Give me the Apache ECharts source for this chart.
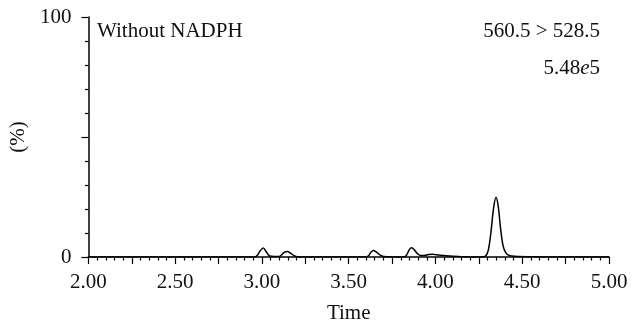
<!DOCTYPE html>
<html><head><meta charset="utf-8">
<script src="https://cdn.jsdelivr.net/npm/echarts@6/dist/echarts.min.js"></script>
<style>html,body{margin:0;padding:0;background:#fff}#c{width:639px;height:329px}</style>
</head><body><div id="c"></div>
<script>
const times = [2.00, 2.96, 2.975, 2.99, 3.008, 3.025, 3.044, 3.07, 3.10, 3.115, 3.13, 3.147, 3.165, 3.185, 3.205, 3.25,
  3.60, 3.615, 3.628, 3.642, 3.66, 3.68, 3.70, 3.75, 3.82, 3.835, 3.85, 3.863, 3.878, 3.895, 3.915, 3.935, 3.96, 3.985, 4.005, 4.03, 4.06, 4.10, 4.15, 4.20,
  4.27, 4.29, 4.305, 4.32, 4.335, 4.349, 4.362, 4.375, 4.39, 4.405, 4.42, 4.44, 4.48, 4.55, 4.62, 5.00];
const intensity = [0, 0, 0.8, 2.6, 3.7, 2.2, 0.4, 0.2, 0.2, 1.0, 2.0, 2.3, 1.6, 0.6, 0.1, 0,
  0, 0.6, 2.0, 2.7, 2.0, 0.9, 0.2, 0, 0, 1.0, 3.2, 3.9, 3.0, 1.5, 0.6, 0.6, 1.0, 1.1, 0.9, 0.7, 0.5, 0.3, 0.15, 0,
  0, 0.5, 3.0, 10.5, 20.5, 24.9, 21.0, 12.0, 4.5, 1.8, 0.8, 0.4, 0.2, 0.1, 0, 0];
const xTickLabels = ['2.00', '2.50', '3.00', '3.50', '4.00', '4.50', '5.00'];
const yTickLabels = ['0', '100'];
const seriesName = '560.5 > 528.5';
const panelLabel = 'Without NADPH';
const scaleLabel = '5.48e5';

const font = 'Liberation Serif';
const fs = 21;
const chart = echarts.init(document.getElementById('c'), null, {renderer: 'canvas'});
chart.setOption({
  animation: false,
  backgroundColor: '#fff',
  grid: {left: 88, right: 30, top: 17, bottom: 71},
  xAxis: {
    type: 'value', min: 2, max: 5, interval: 0.25,
    name: 'Time', nameLocation: 'middle', nameGap: 46,
    nameTextStyle: {fontFamily: font, fontSize: fs, color: '#111'},
    axisLine: {onZero: false, lineStyle: {color: '#000', width: 1.5}},
    axisTick: {show: true, inside: false, length: 7, lineStyle: {color: '#000', width: 1.2}},
    minorTick: {show: true, splitNumber: 5, length: 3.5, lineStyle: {color: '#000', width: 1.2}},
    splitLine: {show: false},
    axisLabel: {
      margin: 15, fontFamily: font, fontSize: fs, color: '#111',
      formatter: v => { const s = v.toFixed(2); return xTickLabels.includes(s) ? s : ''; }
    }
  },
  yAxis: {
    type: 'value', min: 0, max: 100, interval: 50,
    name: '(%)', nameLocation: 'middle', nameGap: 53, nameRotate: 90,
    nameTextStyle: {fontFamily: font, fontSize: fs, color: '#111'},
    axisLine: {show: true, lineStyle: {color: '#000', width: 1.5}},
    axisTick: {show: true, inside: false, length: 7, lineStyle: {color: '#000', width: 1.2}},
    minorTick: {show: true, splitNumber: 5, length: 3.5, lineStyle: {color: '#000', width: 1.2}},
    splitLine: {show: false},
    axisLabel: {
      margin: 17, fontFamily: font, fontSize: fs, color: '#111',
      formatter: v => { const s = String(Math.round(v)); return yTickLabels.includes(s) ? s : ''; }
    }
  },
  series: [{
    name: seriesName,
    type: 'line',
    data: times.map((t, i) => [t, intensity[i]]),
    showSymbol: false,
    smooth: 0.35,
    lineStyle: {color: '#000', width: 1.5},
    z: 3
  }],
  graphic: [
    {type: 'text', left: 97, top: 21, style: {text: panelLabel, font: fs + 'px "' + font + '"', fill: '#111'}},
    {type: 'text', right: 39, top: 21, style: {text: seriesName, font: fs + 'px "' + font + '"', fill: '#111', textAlign: 'right'}},
    {type: 'text', right: 39, top: 58, style: {
      text: '{a|5.48}{b|e}{a|5}',
      rich: {
        a: {fontFamily: font, fontSize: fs, fill: '#111', color: '#111'},
        b: {fontFamily: font, fontSize: fs, fontStyle: 'italic', fill: '#111', color: '#111'}
      }
    }}
  ]
});
</script></body></html>
